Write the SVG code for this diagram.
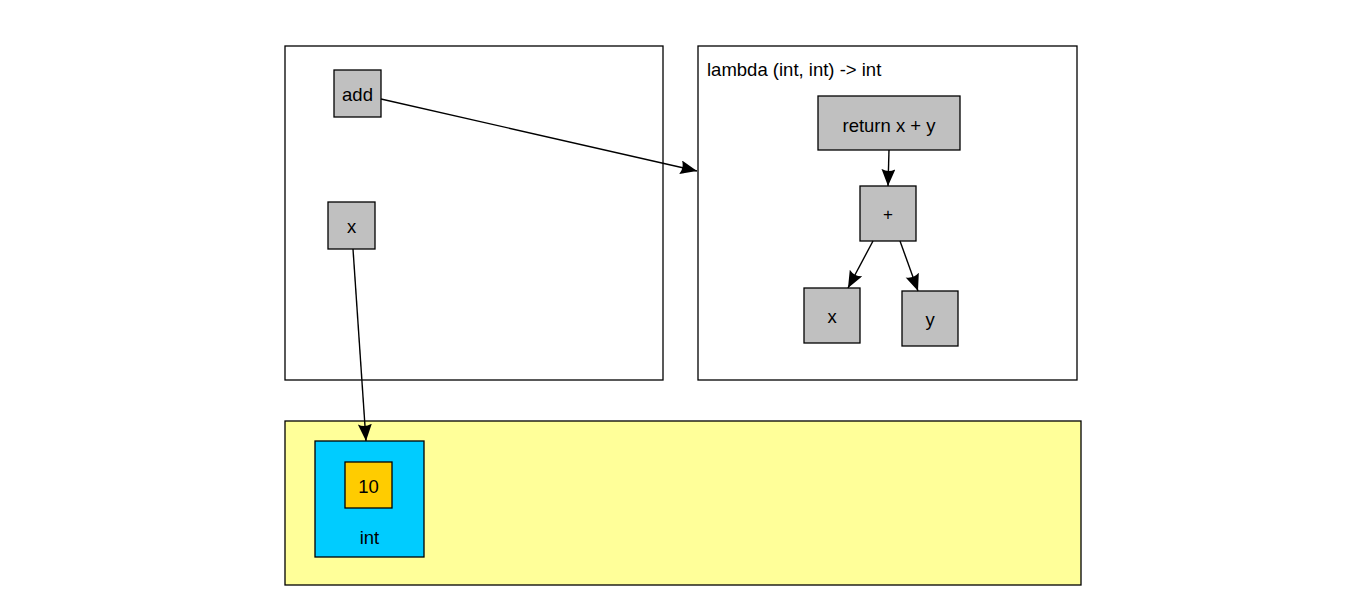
<svg xmlns="http://www.w3.org/2000/svg" width="1346" height="608" viewBox="0 0 1346 608">
<style>
text{font-family:"Liberation Sans",Arial,sans-serif;font-size:18.5px;fill:#000}
.frame{fill:#fff;stroke:#000;stroke-width:1.3}
.node{fill:#c0c0c0;stroke:#000;stroke-width:1.3}
.edge{fill:none;stroke:#000;stroke-width:1.4}
</style>
<defs>
<marker id="ah" markerUnits="userSpaceOnUse" markerWidth="18" markerHeight="15" refX="17" refY="7" orient="auto">
<path d="M0,0 L17,7 L0,14 Q4,7 0,0 z" fill="#000"/>
</marker>
</defs>
<rect width="1346" height="608" fill="#fff"/>
<g id="scope-left"><rect class="frame" x="285" y="46" width="378" height="334"/></g>
<g id="scope-lambda"><rect class="frame" x="698" y="46" width="379" height="334"/>
<text x="707" y="76">lambda (int, int) -&gt; int</text></g>
<g id="heap"><rect x="285" y="421" width="796" height="164" fill="#ffff99" stroke="#000" stroke-width="1.3"/></g>
<g id="node-add"><rect class="node" x="334" y="70" width="47" height="47"/><text x="357.5" y="101" text-anchor="middle">add</text></g>
<g id="node-x"><rect class="node" x="328" y="202" width="47" height="47"/><text x="351.5" y="232.5" text-anchor="middle">x</text></g>
<g id="node-return"><rect class="node" x="818" y="96" width="142" height="54"/><text x="889" y="132" text-anchor="middle">return x + y</text></g>
<g id="node-plus"><rect class="node" x="860" y="186" width="56" height="55"/><text x="888" y="220" text-anchor="middle" style="font-size:17px">+</text></g>
<g id="node-lx"><rect class="node" x="804" y="288" width="56" height="55"/><text x="832" y="322.5" text-anchor="middle">x</text></g>
<g id="node-ly"><rect class="node" x="902" y="291" width="56" height="55"/><text x="930" y="325.5" text-anchor="middle">y</text></g>
<g id="node-int"><rect x="315" y="441" width="109" height="116" fill="#00ccff" stroke="#000" stroke-width="1.3"/><text x="369.5" y="544" text-anchor="middle">int</text></g>
<g id="node-10"><rect x="345" y="462" width="47" height="46" fill="#ffcc00" stroke="#000" stroke-width="1.3"/><text x="368.5" y="492.5" text-anchor="middle">10</text></g>
<g id="connectors">
<path class="edge" d="M381,99 L697,171" marker-end="url(#ah)"/>
<path class="edge" d="M353,249 L366,441" marker-end="url(#ah)"/>
<path class="edge" d="M889,150 L888,186" marker-end="url(#ah)"/>
<path class="edge" d="M873,241 L848,288" marker-end="url(#ah)"/>
<path class="edge" d="M900,241 L918,291" marker-end="url(#ah)"/>
</g>
</svg>
